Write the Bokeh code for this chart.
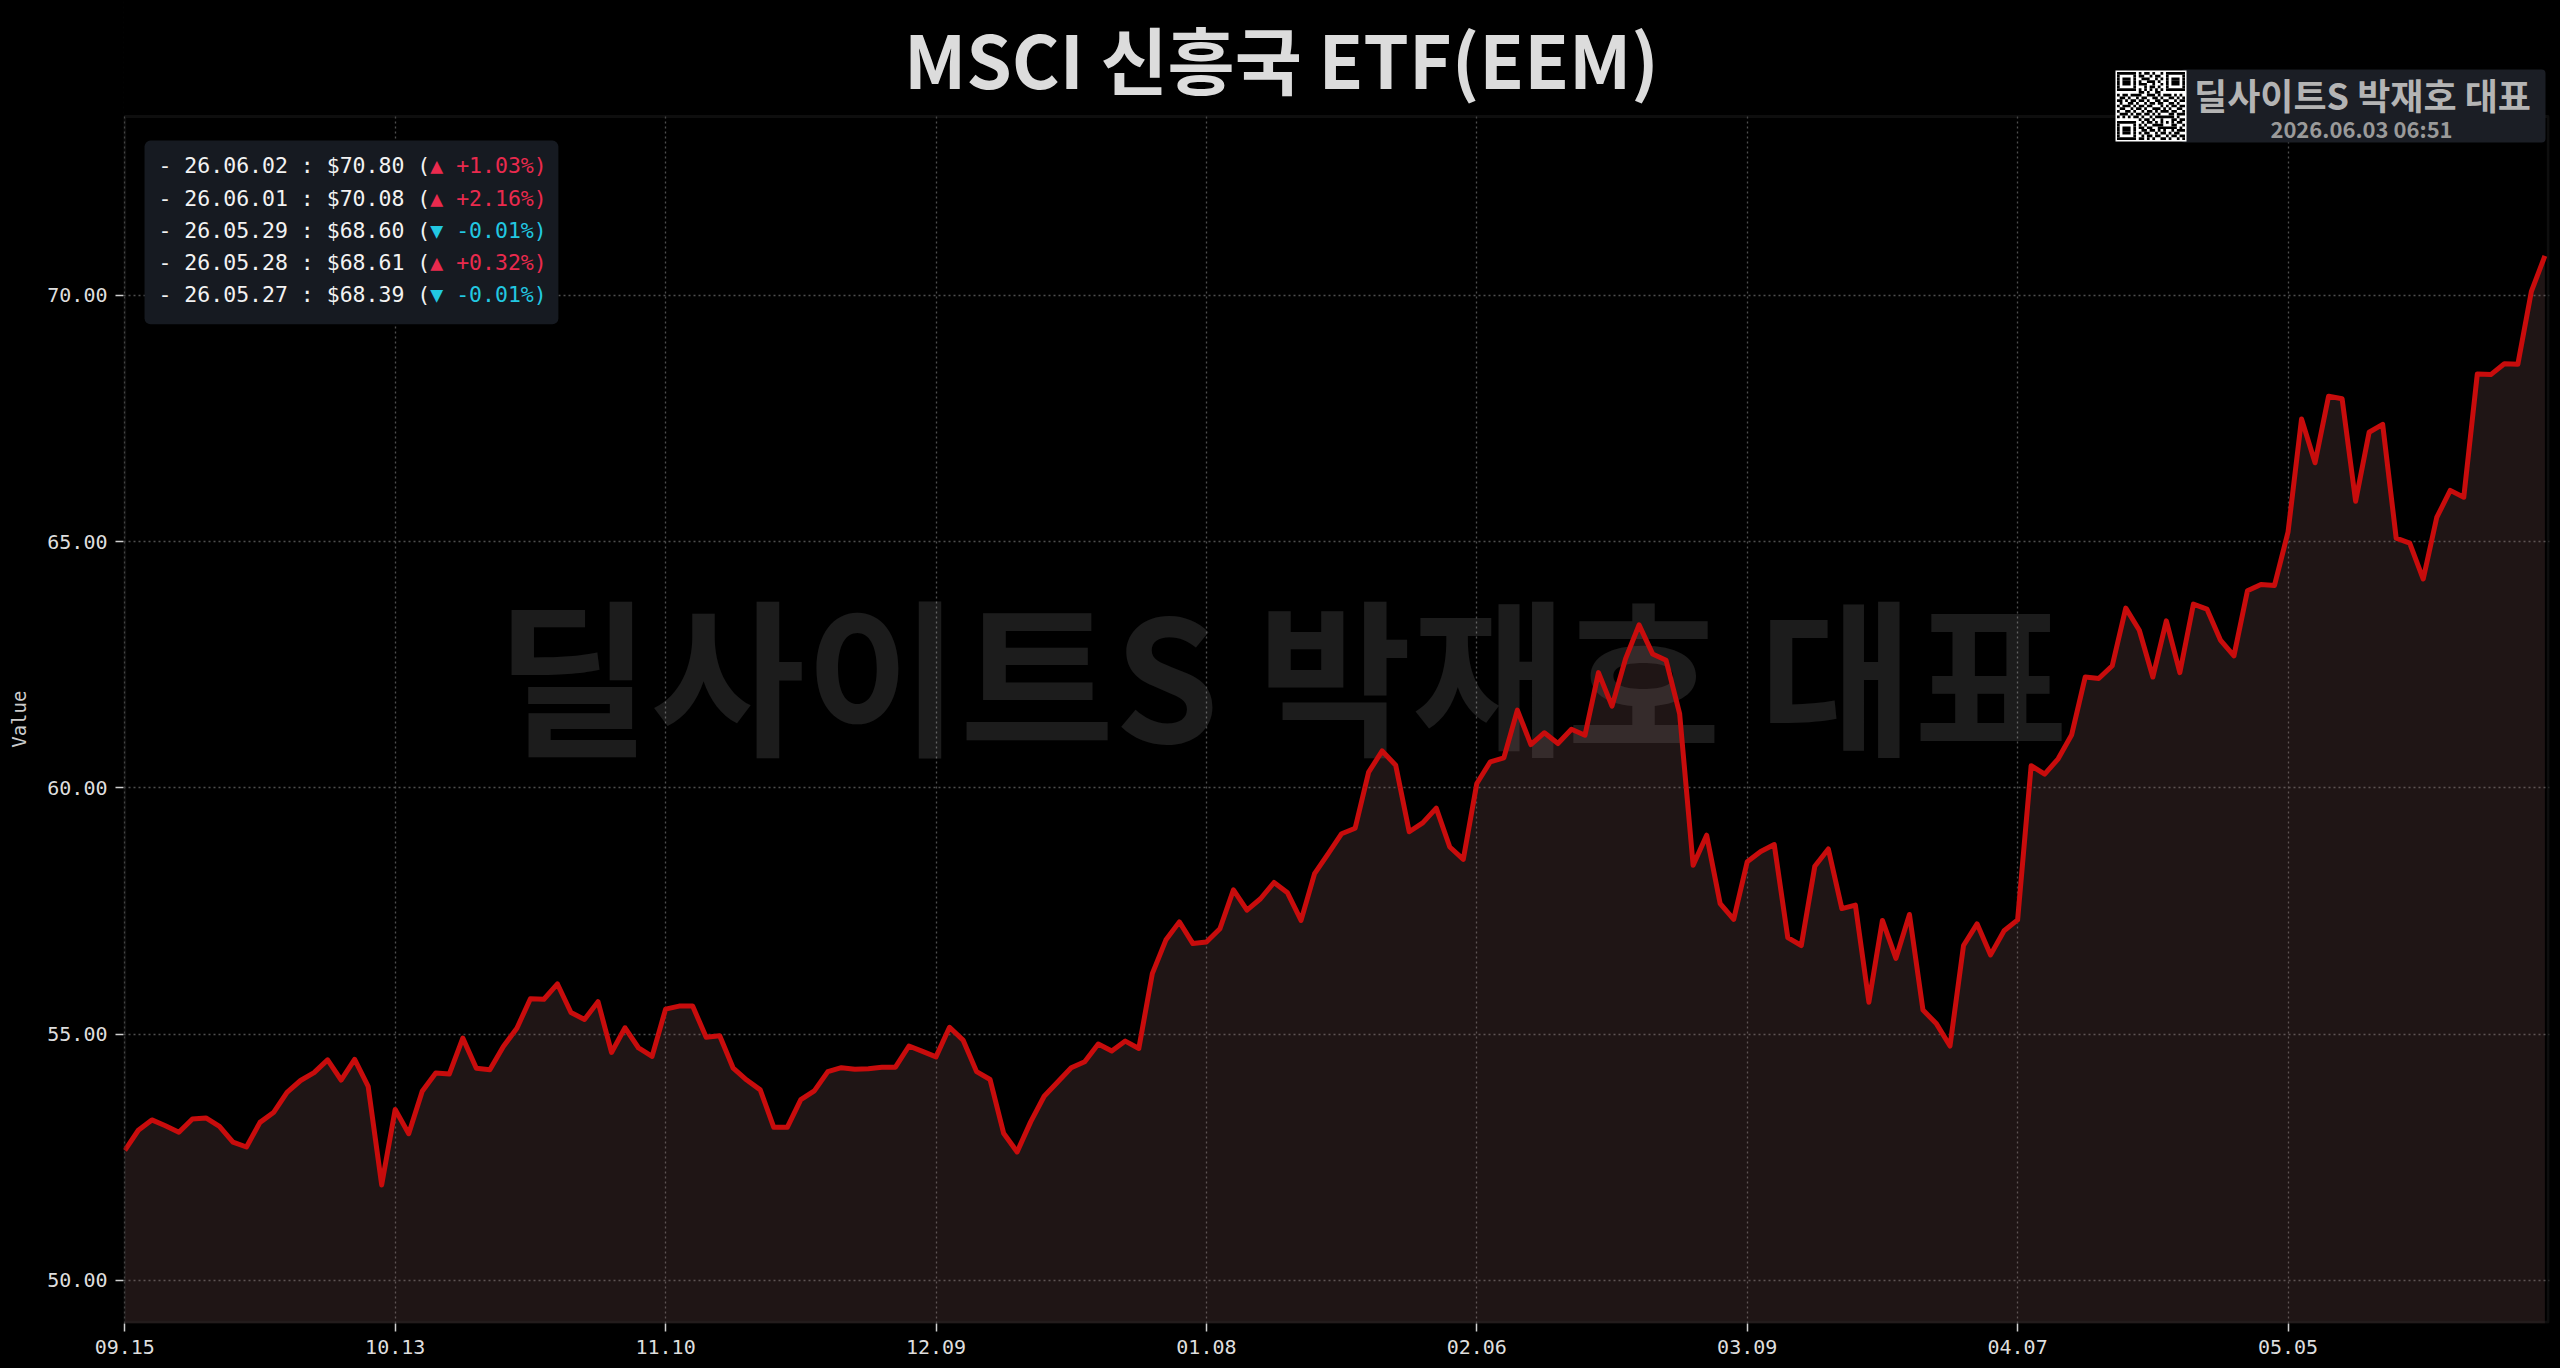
from bokeh.plotting import figure
from bokeh.models import (Range1d, FixedTicker, PrintfTickFormatter, Label, BoxAnnotation,
                          ColumnDataSource, GlobalInlineStyleSheet)
from bokeh.core.properties import value
from bokeh.embed import file_html
from bokeh.resources import INLINE

# ---------------- data ----------------
title_text = "MSCI 신흥국 ETF(EEM)"
watermark_text = "딜사이트S 박재호 대표"
badge_date = "2026.06.03 06:51"
y_axis_label = "Value"

tick_labels = ["09.15", "10.13", "11.10", "12.09", "01.08", "02.06", "03.09", "04.07", "05.05"]
tick_step = 20
y_ticks = [50, 55, 60, 65, 70]

prices = [
    52.64, 53.05, 53.26, 53.14, 53.01, 53.28, 53.30, 53.13, 52.81, 52.71,
    53.21, 53.41, 53.82, 54.06, 54.22, 54.48, 54.07, 54.49, 53.94, 51.94,
    53.47, 52.98, 53.84, 54.21, 54.19, 54.92, 54.31, 54.28, 54.75, 55.12,
    55.72, 55.71, 56.02, 55.44, 55.30, 55.66, 54.63, 55.13, 54.72, 54.55,
    55.51, 55.57, 55.57, 54.94, 54.97, 54.31, 54.07, 53.87, 53.11, 53.11,
    53.67, 53.85, 54.24, 54.32, 54.29, 54.30, 54.33, 54.33, 54.76, 54.65,
    54.54, 55.14, 54.88, 54.24, 54.08, 52.99, 52.61, 53.22, 53.74, 54.03,
    54.32, 54.44, 54.80, 54.66, 54.86, 54.71, 56.23, 56.91, 57.28, 56.84,
    56.87, 57.14, 57.93, 57.52, 57.75, 58.08, 57.87, 57.31, 58.26, 58.66,
    59.07, 59.18, 60.32, 60.75, 60.46, 59.11, 59.29, 59.59, 58.80, 58.55,
    60.09, 60.53, 60.61, 61.58, 60.88, 61.12, 60.90, 61.19, 61.07, 62.34,
    61.66, 62.62, 63.31, 62.72, 62.59, 61.51, 58.43, 59.04, 57.65, 57.33,
    58.50, 58.71, 58.85, 56.96, 56.80, 58.41, 58.76, 57.55, 57.62, 55.65,
    57.31, 56.54, 57.43, 55.49, 55.21, 54.76, 56.80, 57.24, 56.61, 57.10,
    57.32, 60.45, 60.28, 60.59, 61.08, 62.25, 62.22, 62.48, 63.65, 63.20,
    62.25, 63.39, 62.34, 63.73, 63.63, 63.00, 62.68, 64.00, 64.13, 64.11,
    65.19, 67.49, 66.60, 67.95, 67.90, 65.82, 67.22, 67.38, 65.07, 64.97,
    64.24, 65.49, 66.04, 65.90, 68.40, 68.39, 68.61, 68.60, 70.08, 70.80,
]

legend_dates = ["26.06.02", "26.06.01", "26.05.29", "26.05.28", "26.05.27"]
legend_prices = [70.80, 70.08, 68.60, 68.61, 68.39]
legend_changes = [1.03, 2.16, -0.01, 0.32, -0.01]

qr_rows = [
    "1111111010110100101111111",
    "1000001011001011001000001",
    "1011101001110010101011101",
    "1011101010011101001011101",
    "1011101011100100101011101",
    "1000001000101101001000001",
    "1111111010101010101111111",
    "0000000011010011000000000",
    "1011011110011101011101010",
    "0110100101100110100110101",
    "1101011011010011011001011",
    "0100110100101101100110100",
    "1011101011011000101011011",
    "0110010110100111010100110",
    "1001101001011010111011001",
    "0111010110110101000110111",
    "1010101101001011111110100",
    "0000000010110100100011011",
    "1111111001011010101010110",
    "1000001010100111100011001",
    "1011101011011001111111010",
    "1011101001101101010010111",
    "1011101010110010110101100",
    "1000001001011011001011011",
    "1111111011010100110100101",
]

# ---------------- layout (page pixels) ----------------
W, H = 2560, 1368
B_LEFT, B_RIGHT, B_BOTTOM = 123, 11, 45
PLOT_TOP = 116                      # page y of the visible plot-area top edge
FRAME_W = W - B_LEFT - B_RIGHT
FRAME_H = H - B_BOTTOM              # frame spans page y 0 .. FRAME_H
PX_PER_UNIT = 49.26


def sx(px):
    return px - B_LEFT


def sy(py):
    return FRAME_H - py


n = len(prices)
xs = list(range(n))
y0 = 49.127
y_top = y0 + FRAME_H / PX_PER_UNIT
y_plot_top = y0 + (FRAME_H - PLOT_TOP) / PX_PER_UNIT

p = figure(width=W, height=H, output_backend="svg", toolbar_location=None,
           x_range=Range1d(-0.096, n - 1 + 0.34), y_range=Range1d(y0, y_top),
           min_border_left=B_LEFT, min_border_right=B_RIGHT,
           min_border_top=0, min_border_bottom=B_BOTTOM,
           background_fill_color="#000000", border_fill_color="#000000")
p.stylesheets = [GlobalInlineStyleSheet(css="html, body { background-color: #000000 !important; }")]
p.outline_line_color = None

p.xaxis.ticker = FixedTicker(ticks=[i * tick_step for i in range(len(tick_labels))])
p.xaxis.major_label_overrides = {i * tick_step: lbl for i, lbl in enumerate(tick_labels)}
p.yaxis.ticker = FixedTicker(ticks=y_ticks)
p.yaxis.formatter = PrintfTickFormatter(format="%.2f")
p.yaxis.bounds = (y0, y_plot_top)
for ax in (p.xaxis, p.yaxis):
    ax.axis_line_color = None
    ax.major_tick_line_color = "#cfcfcf"
    ax.major_tick_line_width = 1.5
    ax.major_tick_out = 8
    ax.major_tick_in = 0
    ax.minor_tick_line_color = None
    ax.major_label_text_font = "DejaVu Sans Mono"
    ax.major_label_text_font_size = "20px"
    ax.major_label_text_color = "#dedede"
    ax.major_label_standoff = 8

# the axis label is centred on the whole frame (which includes the header strip);
# trailing no-break spaces shift the visible word down to the plot-area centre
label_fs = 19
shift_px = (FRAME_H / 2) - ((PLOT_TOP + FRAME_H) / 2 - 0)   # negative: move down
n_pad = round(-2 * shift_px / (0.602 * label_fs))
p.yaxis.axis_label = y_axis_label + "\u00a0" * n_pad
p.yaxis.axis_label_text_font = "DejaVu Sans Mono"
p.yaxis.axis_label_text_font_size = f"{label_fs}px"
p.yaxis.axis_label_text_font_style = "normal"
p.yaxis.axis_label_text_color = "#cccccc"
p.yaxis.axis_label_standoff = 14

p.xgrid.ticker = p.xaxis.ticker
p.ygrid.ticker = p.yaxis.ticker
p.grid.grid_line_color = "#4f4f4f"
p.grid.grid_line_dash = "2 3"
p.grid.grid_line_width = 1.3


def sbox(l, t, r, b, color, radius=0, level="annotation"):
    return BoxAnnotation(left=sx(l), right=sx(r), top=sy(t), bottom=sy(b),
                         left_units="screen", right_units="screen",
                         top_units="screen", bottom_units="screen", level=level,
                         fill_color=color, fill_alpha=1.0, line_color=None, border_radius=radius)


# header strip: hide the grid above the plot area
p.add_layout(sbox(B_LEFT - 5, -5, W, PLOT_TOP - 1.5, "#000000", level="underlay"))

# watermark (under fill and line)
p.text(x=[85.6], y=[62.4], text=[watermark_text], text_font=value("Noto Sans CJK KR"),
       text_font_style="bold", text_font_size="168px", text_color="#ffffff", text_alpha=0.11,
       text_align="center", text_baseline="middle")

# area + line
src = ColumnDataSource(dict(x=xs, y=prices, base=[y0] * n))
p.varea(x="x", y1="base", y2="y", source=src, fill_color="#9b6969", fill_alpha=0.2)
p.line(x="x", y="y", source=src, line_color="#c80c0c", line_width=5, line_join="round")

# plot-area border
p.add_layout(BoxAnnotation(left=1.2, right=FRAME_W - 1.2, bottom=1.2, top=sy(PLOT_TOP),
                           left_units="screen", right_units="screen",
                           top_units="screen", bottom_units="screen",
                           fill_color=None, line_color="#2e2e2e", line_width=3))

# legend box (data units)
p.add_layout(BoxAnnotation(left=1.46, right=32.07, top=73.14, bottom=69.41, level="underlay",
                           fill_color="#161a21", fill_alpha=1.0, line_color=None, border_radius=6))
fs = 21.5
char_w = 0.602 * fs
prefix = [f"- {d} : ${v:.2f} (" for d, v in zip(legend_dates, legend_prices)]
suffix = [f"{'▲' if c > 0 else '▼'} {c:+.2f}%)" for c in legend_changes]
colors = ["#ea2a4e" if c > 0 else "#22c8e2" for c in legend_changes]
row_y = [72.63 - k * 0.655 for k in range(len(legend_dates))]
lx = [2.49] * len(legend_dates)
p.text(x=lx, y=row_y, text=prefix, text_font=value("DejaVu Sans Mono"), text_font_size=f"{fs}px",
       text_color="#f2f2f2", text_align="left", text_baseline="middle")
p.text(x=lx, y=row_y, text=suffix, text_color=colors, x_offset=len(prefix[0]) * char_w,
       text_font=value("DejaVu Sans Mono"), text_font_size=f"{fs}px",
       text_align="left", text_baseline="middle")

# title
p.add_layout(Label(x=sx(1281), y=sy(56), x_units="screen", y_units="screen", text=title_text,
                   text_font="Noto Sans CJK KR", text_font_style="bold", text_font_size="73px",
                   text_color="#dcdcdc", text_align="center", text_baseline="middle"))

# badge with QR code
p.add_layout(sbox(2180, 69, 2545, 142, "#1b1e25", 4))
QL, QT, QS = 2115, 70, 71
p.add_layout(sbox(QL, QT, QL + QS, QT + QS, "#ffffff"))
pad = 1.5
mm = (QS - 2 * pad) / len(qr_rows)
for r, row in enumerate(qr_rows):
    c = 0
    while c < len(row):
        if row[c] == "1":
            s = c
            while c < len(row) and row[c] == "1":
                c += 1
            p.add_layout(sbox(QL + pad + s * mm, QT + pad + r * mm,
                              QL + pad + c * mm, QT + pad + (r + 1) * mm, "#000000"))
        else:
            c += 1

p.add_layout(Label(x=sx(2362), y=sy(93), x_units="screen", y_units="screen", text=watermark_text,
                   text_font="Noto Sans CJK KR", text_font_style="bold", text_font_size="36px",
                   text_color="#b4b4b4", text_align="center", text_baseline="middle"))
p.add_layout(Label(x=sx(2361), y=sy(127), x_units="screen", y_units="screen", text=badge_date,
                   text_font="Noto Sans CJK KR", text_font_style="bold", text_font_size="22px",
                   text_color="#9a9a9a", text_align="center", text_baseline="middle"))

open("out.html", "w").write(file_html(p, INLINE))
